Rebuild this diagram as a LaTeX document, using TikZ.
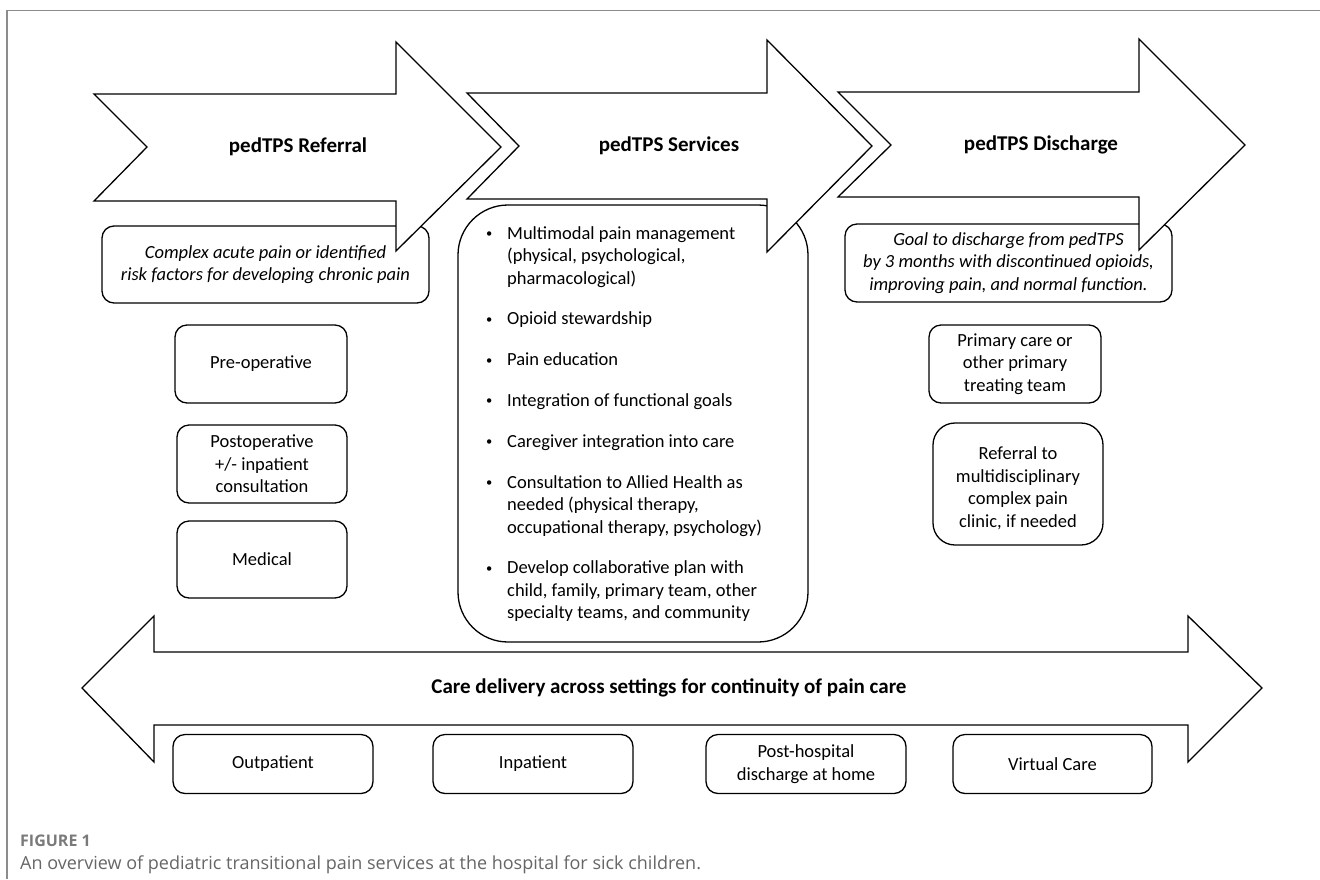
\documentclass[tikz,border=0pt]{standalone}
\usepackage{fontspec}
\setmainfont{Carlito}
\newfontfamily\capfont{Open Sans}
\definecolor{framegray}{HTML}{8C8C8C}
\definecolor{capgray}{HTML}{666666}
\definecolor{capgraydark}{HTML}{7A7A7A}
\newcommand{\smallbul}{\hspace*{1.5pt}\raisebox{1.6pt}{\fontsize{12.5}{12.5}\selectfont\textbullet}}
\begin{document}
\begin{tikzpicture}[x=1pt,y=-1pt,
  box/.style={draw=black, line width=1.3pt, rounded corners=12pt, fill=white, align=center, inner sep=0pt,
              font=\fontsize{18.5}{22.5}\selectfont},
  boxtext/.style={align=center, inner sep=0pt, font=\fontsize{18.5}{22.5}\selectfont},
  bigarrow/.style={draw=black, line width=1.3pt, fill=white, line join=miter},
  titletext/.style={font=\fontsize{21}{25}\selectfont\bfseries, inner sep=0pt},
  listtext/.style={font=\fontsize{18.5}{22.5}\selectfont, inner sep=0pt, anchor=base west},
]
\useasboundingbox (0,0) rectangle (1320,879);
\fill[white] (0,0) rectangle (1320,879);

% frame
\coordinate (frameA) at (7,879);
\coordinate (frameB) at (7,10.5);
\coordinate (frameC) at (1320,10.5);
\draw[framegray, line width=1.2pt] (frameA) -- (frameB) -- (frameC);

% boxes under the arrows
\node[box, minimum width=327pt, minimum height=77pt] (complex) at (265.5,264.5)
  {\itshape Complex acute pain or identified\\ \itshape risk factors for developing chronic pain};
\node[box, rounded corners=50pt, minimum width=350pt, minimum height=437pt] (services) at (633,423.5) {};
\node[box, minimum width=327pt, minimum height=78pt] (goal) at (1008.5,263)
  {\itshape Goal to discharge from pedTPS\\ \itshape by 3 months with discontinued opioids,\\ \itshape improving pain, and normal function.};

% top arrows
\draw[bigarrow] (94,94) -- (396,94) -- (396,42) -- (501,147) -- (396,251) -- (396,201) -- (94,201) -- (147,147) -- cycle;
\draw[bigarrow] (467,93) -- (767,93) -- (767,40) -- (872,146) -- (767,252) -- (767,199) -- (467,199) -- (519,146) -- cycle;
\draw[bigarrow] (838,92) -- (1139,92) -- (1139,39) -- (1245,145) -- (1139,250) -- (1139,197) -- (838,197) -- (891,145) -- cycle;
\node[titletext] (t1) at (298,147) {pedTPS Referral};
\node[titletext] (t2) at (669,146) {pedTPS Services};
\node[titletext] (t3) at (1041,145) {pedTPS Discharge};

% services list
\node[listtext] (servlist) at (484.5,239) {%
\renewcommand\arraystretch{1}%
\begin{tabular}[t]{@{}p{22.5pt}@{}l@{}}
\smallbul & Multimodal pain management\\
 & (physical, psychological,\\
 & pharmacological)\\[18.3pt]
\smallbul & Opioid stewardship\\[18.3pt]
\smallbul & Pain education\\[18.3pt]
\smallbul & Integration of functional goals\\[18.3pt]
\smallbul & Caregiver integration into care\\[18.3pt]
\smallbul & Consultation to Allied Health as\\
 & needed (physical therapy,\\
 & occupational therapy, psychology)\\[18.3pt]
\smallbul & Develop collaborative plan with\\
 & child, family, primary team, other\\
 & specialty teams, and community
\end{tabular}};

% left column
\node[box, minimum width=172pt, minimum height=78pt] (preop) at (261,364) {Pre-operative};
\node[box, minimum width=170pt, minimum height=78pt] (postop) at (262,464) {Postoperative\\ +/- inpatient\\ consultation};
\node[box, minimum width=170pt, minimum height=77pt] (medical) at (262,559.5) {Medical};

% right column
\node[box, minimum width=172pt, minimum height=78pt] (primary) at (1015,364) {Primary care or\\ other primary\\ treating team};
\node[box, rounded corners=22pt, minimum width=170pt, minimum height=122pt] (referral) at (1018,484) {};
\node[boxtext] (referraltext) at ([yshift=-4.5pt]referral.center) {Referral to\\ multidisciplinary\\ complex pain\\ clinic, if needed};

% bottom double arrow
\draw[bigarrow] (82,688) -- (154,616) -- (154,652) -- (1188,652) -- (1188,616) -- (1262,688) -- (1188,762) -- (1188,725) -- (154,725) -- (154,762) -- cycle;
\node[titletext] (care) at (669,688) {Care delivery across settings for continuity of pain care};

% settings
\node[box, minimum width=200pt, minimum height=59pt] (outp) at (273,764) {Outpatient};
\node[box, minimum width=200pt, minimum height=59pt] (inp) at (533,764) {Inpatient};
\node[box, minimum width=200pt, minimum height=59pt] (posth) at (806,764) {Post-hospital\\ discharge at home};
\node[box, minimum width=199pt, minimum height=59pt] (virt) at (1052.5,764) {Virtual Care};

% caption
\node[anchor=base west, inner sep=0pt, font=\capfont\fontsize{16}{18}\selectfont\bfseries, text=capgraydark] (figlabel) at (20,846) {FIGURE 1};
\node[anchor=base west, inner sep=0pt, font=\capfont\fontsize{18}{20}\selectfont, text=capgray] (figcaption) at (20,869) {An overview of pediatric transitional pain services at the hospital for sick children.};
\end{tikzpicture}
\end{document}
